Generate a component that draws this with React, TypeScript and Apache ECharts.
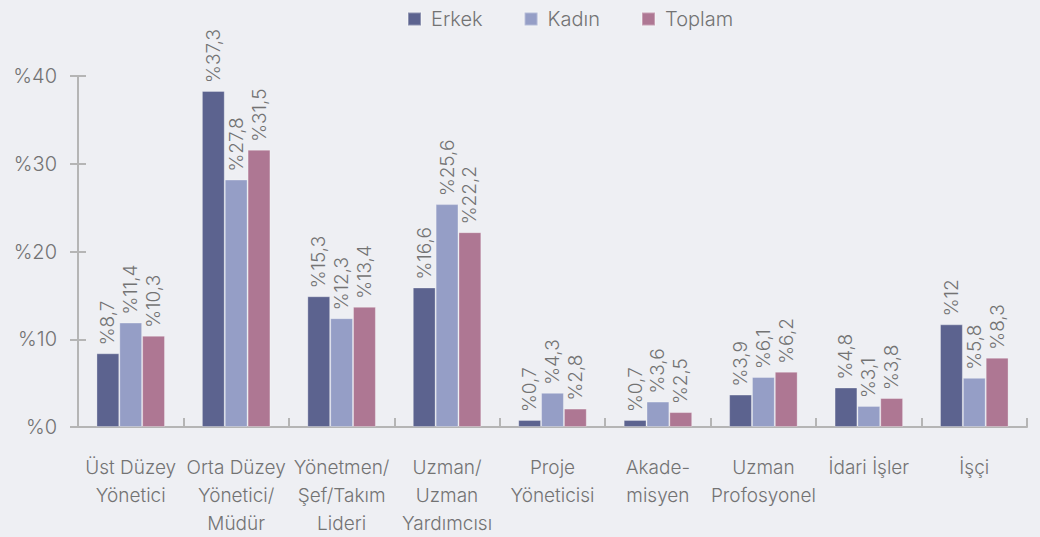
import React, { useEffect, useRef } from "react";
import * as echarts from "echarts";

const categories = [
  "Üst Düzey\nYönetici",
  "Orta Düzey\nYönetici/\nMüdür",
  "Yönetmen/\nŞef/Takım\nLideri",
  "Uzman/\nUzman\nYardımcısı",
  "Proje\nYöneticisi",
  "Akade-\nmisyen",
  "Uzman\nProfosyonel",
  "İdari İşler",
  "İşçi",
];

const seriesNames = ["Erkek", "Kadın", "Toplam"];

// bar heights as drawn
const erkekValues = [8.4, 38.3, 14.9, 15.9, 0.8, 0.8, 3.7, 4.5, 11.7];
const kadinValues = [11.9, 28.2, 12.4, 25.4, 3.9, 2.9, 5.7, 2.4, 5.6];
const toplamValues = [10.4, 31.6, 13.7, 22.2, 2.1, 1.7, 6.3, 3.3, 7.9];

// value labels as printed
const erkekLabels = ["%8,7", "%37,3", "%15,3", "%16,6", "%0,7", "%0,7", "%3,9", "%4,8", "%12"];
const kadinLabels = ["%11,4", "%27,8", "%12,3", "%25,6", "%4,3", "%3,6", "%6,1", "%3,1", "%5,8"];
const toplamLabels = ["%10,3", "%31,5", "%13,4", "%22,2", "%2,8", "%2,5", "%6,2", "%3,8", "%8,3"];

const yTicks = [0, 10, 20, 30, 40];

const colors = ["#5c638f", "#959ec6", "#ae7793"];
const FONT = "Inter, 'Open Sans', sans-serif";
const TEXT = "#737373";
const W = 300;

export default function App() {
  const ref = useRef<HTMLDivElement>(null);
  useEffect(() => {
    if (!ref.current) return;
    const chart = echarts.init(ref.current, null, { renderer: "svg" });
    const values = [erkekValues, kadinValues, toplamValues];
    const labels = [erkekLabels, kadinLabels, toplamLabels];
    chart.setOption({
      animation: false,
      backgroundColor: "#eeeff3",
      color: colors,
      textStyle: { fontFamily: FONT, fontWeight: W },
      legend: {
        data: seriesNames,
        left: 402,
        top: 4,
        itemWidth: 13,
        itemHeight: 13,
        itemGap: 41,
        icon: "rect",
        textStyle: {
          color: TEXT,
          fontSize: 20,
          fontWeight: W,
          fontFamily: FONT,
          padding: [0, 0, 0, 5],
        },
      },
      grid: { left: 78, right: 13, top: 76, bottom: 105, containLabel: false },
      xAxis: {
        type: "category",
        data: categories,
        axisLine: { lineStyle: { color: "#b5b5b5", width: 2 } },
        axisTick: {
          show: true,
          inside: true,
          length: 9,
          lineStyle: { color: "#b5b5b5", width: 2 },
        },
        axisLabel: {
          interval: 0,
          color: TEXT,
          fontSize: 19,
          fontWeight: W,
          lineHeight: 28,
          margin: 26,
          fontFamily: FONT,
        },
      },
      yAxis: [
        {
          type: "value",
          min: yTicks[0],
          max: yTicks[yTicks.length - 1],
          interval: 10,
          splitLine: { show: false },
          axisLine: { show: true, lineStyle: { color: "#b5b5b5", width: 2 } },
          axisTick: { show: true, length: 8, lineStyle: { color: "#b5b5b5", width: 2 } },
          axisLabel: {
            color: TEXT,
            fontSize: 20,
            fontWeight: W,
            margin: 21,
            fontFamily: FONT,
            formatter: (v: number) => "%" + v,
          },
        },
        {
          type: "value",
          position: "left",
          min: yTicks[0],
          max: yTicks[yTicks.length - 1],
          interval: 10,
          splitLine: { show: false },
          axisLine: { show: false },
          axisTick: { show: true, inside: true, length: 8, lineStyle: { color: "#b5b5b5", width: 2 } },
          axisLabel: { show: false },
        },
      ],
      series: seriesNames.map((name, i) => ({
        name,
        type: "bar",
        yAxisIndex: 0,
        data: values[i],
        barGap: "0%",
        barCategoryGap: "35%",
        itemStyle: { color: colors[i], borderColor: "rgba(255,255,255,0.3)", borderWidth: 1 },
        label: {
          show: true,
          position: "top",
          rotate: 90,
          align: "left",
          verticalAlign: "middle",
          distance: 8,
          color: TEXT,
          fontSize: 19,
          fontWeight: W,
          fontFamily: FONT,
          formatter: (p: any) => labels[i][p.dataIndex],
        },
      })),
    });
    return () => chart.dispose();
  }, []);
  return (
    <div
      ref={ref}
      style={{ position: "fixed", left: 0, top: 0, width: 1040, height: 537 }}
    />
  );
}
